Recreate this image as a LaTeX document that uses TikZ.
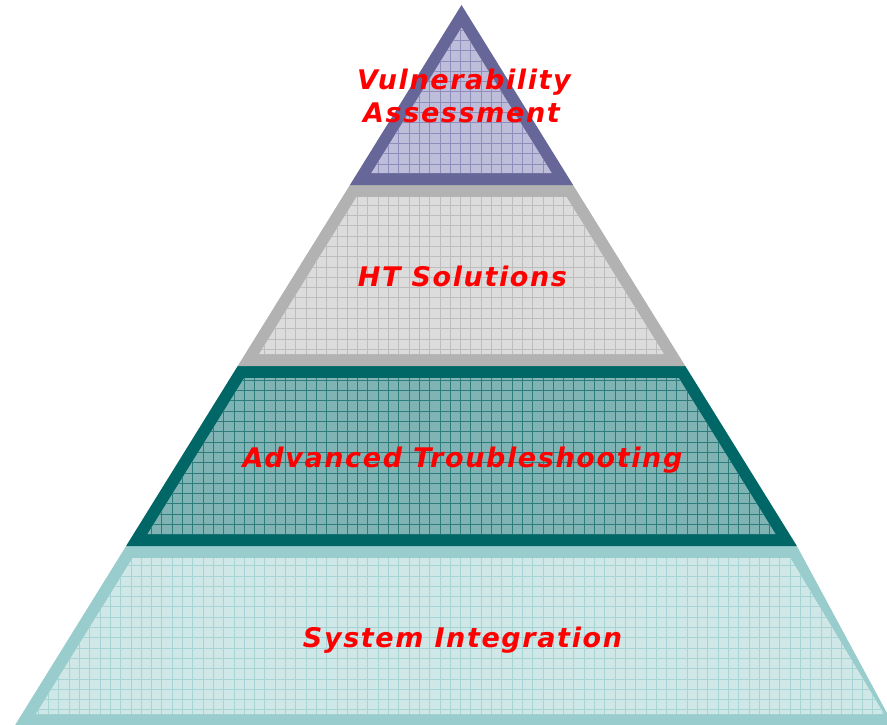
\documentclass[tikz,border=0pt]{standalone}
\usepackage{fontspec}
\setmainfont{DejaVu Sans}
\definecolor{bOne}{HTML}{666699}
\definecolor{fOne}{HTML}{BEBEDA}
\definecolor{gOne}{HTML}{8E8EBC}
\definecolor{bTwo}{HTML}{B2B2B2}
\definecolor{fTwo}{HTML}{DCDCDC}
\definecolor{gTwo}{HTML}{BDBDBD}
\definecolor{bThree}{HTML}{006666}
\definecolor{fThree}{HTML}{80B3B3}
\definecolor{gThree}{HTML}{2E7D7D}
\definecolor{bFour}{HTML}{99CCCC}
\definecolor{fFour}{HTML}{CFE7E7}
\definecolor{gFour}{HTML}{A6D3D3}
\newcommand\pyrgrid[1]{%
  \foreach \k in {0,...,87}{\draw[#1,line width=0.9pt] ({7.4+10.3*\k},0) -- ({7.4+10.3*\k},730);}%
  \foreach \k in {-1,...,71}{\draw[#1,line width=0.9pt] (0,{9.5+10.3*\k}) -- (890,{9.5+10.3*\k});}%
}
\begin{document}
\begin{tikzpicture}[x=1pt,y=-1pt,
  lbl/.style={text=red, font=\fontsize{27}{34}\selectfont\bfseries\itshape\addfontfeature{LetterSpace=6}, inner sep=0pt, anchor=base}]
\useasboundingbox (0,0) rectangle (887,725);
\clip (0,0) rectangle (887,725);
% level 4 (bottom)
\fill[bFour] (126.1,546) -- (796.9,546) -- (894,726) -- (14.5,726) -- cycle;
\begin{scope}
  \clip (132.6,558) -- (790.4,558) -- (884,714) -- (35.9,714) -- cycle;
  \fill[fFour] (0,540) rectangle (887,725);
  \pyrgrid{gFour}
\end{scope}
% level 3
\fill[bThree] (237.7,366) -- (685.3,366) -- (796.9,546) -- (126.1,546) -- cycle;
\begin{scope}
  \clip (244.2,378) -- (678.8,378) -- (775.5,534) -- (147.5,534) -- cycle;
  \fill[fThree] (0,360) rectangle (887,546);
  \pyrgrid{gThree}
\end{scope}
% level 2
\fill[bTwo] (349.9,185) -- (573.1,185) -- (685.3,366) -- (237.7,366) -- cycle;
\begin{scope}
  \clip (356.5,197) -- (566.5,197) -- (663.9,354) -- (259.1,354) -- cycle;
  \fill[fTwo] (0,180) rectangle (887,366);
  \pyrgrid{gTwo}
\end{scope}
% level 1 (top)
\fill[bOne] (461.5,5) -- (573.1,185) -- (349.9,185) -- cycle;
\begin{scope}
  \clip (461.5,27.6) -- (551.7,173) -- (371.3,173) -- cycle;
  \fill[fOne] (0,0) rectangle (887,185);
  \pyrgrid{gOne}
\end{scope}
% labels
\node[lbl] (va) at (464,89) {Vulnerability};
\node[lbl] (vb) at (461.5,123) {Assessment};
\node[lbl] (ht) at (462.5,286) {HT Solutions};
\node[lbl] (at) at (462.5,467) {Advanced Troubleshooting};
\node[lbl] (si) at (462.5,647) {System Integration};
\end{tikzpicture}
\end{document}
